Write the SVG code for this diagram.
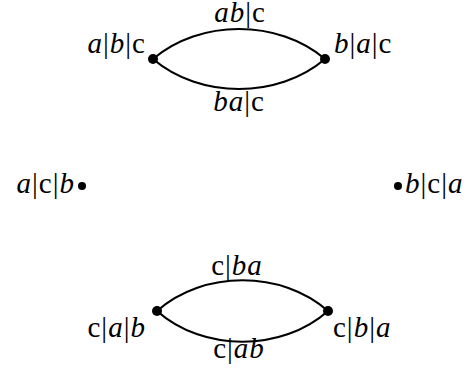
<svg xmlns="http://www.w3.org/2000/svg" width="469" height="379" viewBox="0 0 469 379">
<style>
text{font-family:"Liberation Serif","Times New Roman",serif;font-size:29px;letter-spacing:1px;fill:#000}
.i{font-style:italic}
.e{fill:none;stroke:#000;stroke-width:2.2}
</style>
<rect width="469" height="379" fill="#fff"/>
<g id="connectors">
<path class="e" d="M153,59 C200,19 278,19 325,59"/>
<path class="e" d="M153,59 C200,99 278,99 325,59"/>
<path class="e" d="M157,311 C203,270 282,270 328,311"/>
<path class="e" d="M157,311 C203,352 282,352 328,311"/>
</g>
<g id="n-abc">
<circle cx="153" cy="59" r="5"/>
<text x="146" y="53" text-anchor="end"><tspan class="i">a</tspan>|<tspan class="i">b</tspan>|c</text>
</g>
<g id="n-bac">
<circle cx="325" cy="59" r="5"/>
<text x="334" y="53"><tspan class="i">b</tspan>|<tspan class="i">a</tspan>|c</text>
</g>
<g id="e-ab-c">
<text x="240" y="22" text-anchor="middle"><tspan class="i">ab</tspan>|c</text>
</g>
<g id="e-ba-c">
<text x="239" y="111" text-anchor="middle"><tspan class="i">ba</tspan>|c</text>
</g>
<g id="n-acb">
<circle cx="82" cy="186" r="4"/>
<text x="75" y="193" text-anchor="end"><tspan class="i">a</tspan>|c|<tspan class="i">b</tspan></text>
</g>
<g id="n-bca">
<circle cx="398" cy="186" r="4"/>
<text x="405" y="193"><tspan class="i">b</tspan>|c|<tspan class="i">a</tspan></text>
</g>
<g id="e-c-ba">
<text x="237" y="275" text-anchor="middle">c|<tspan class="i">ba</tspan></text>
</g>
<g id="n-cab">
<circle cx="157" cy="311" r="5"/>
<text x="146" y="337" text-anchor="end">c|<tspan class="i">a</tspan>|<tspan class="i">b</tspan></text>
</g>
<g id="n-cba">
<circle cx="328" cy="311" r="5"/>
<text x="333" y="337">c|<tspan class="i">b</tspan>|<tspan class="i">a</tspan></text>
</g>
<g id="e-c-ab">
<text x="239" y="358" text-anchor="middle">c|<tspan class="i">ab</tspan></text>
</g>
</svg>
